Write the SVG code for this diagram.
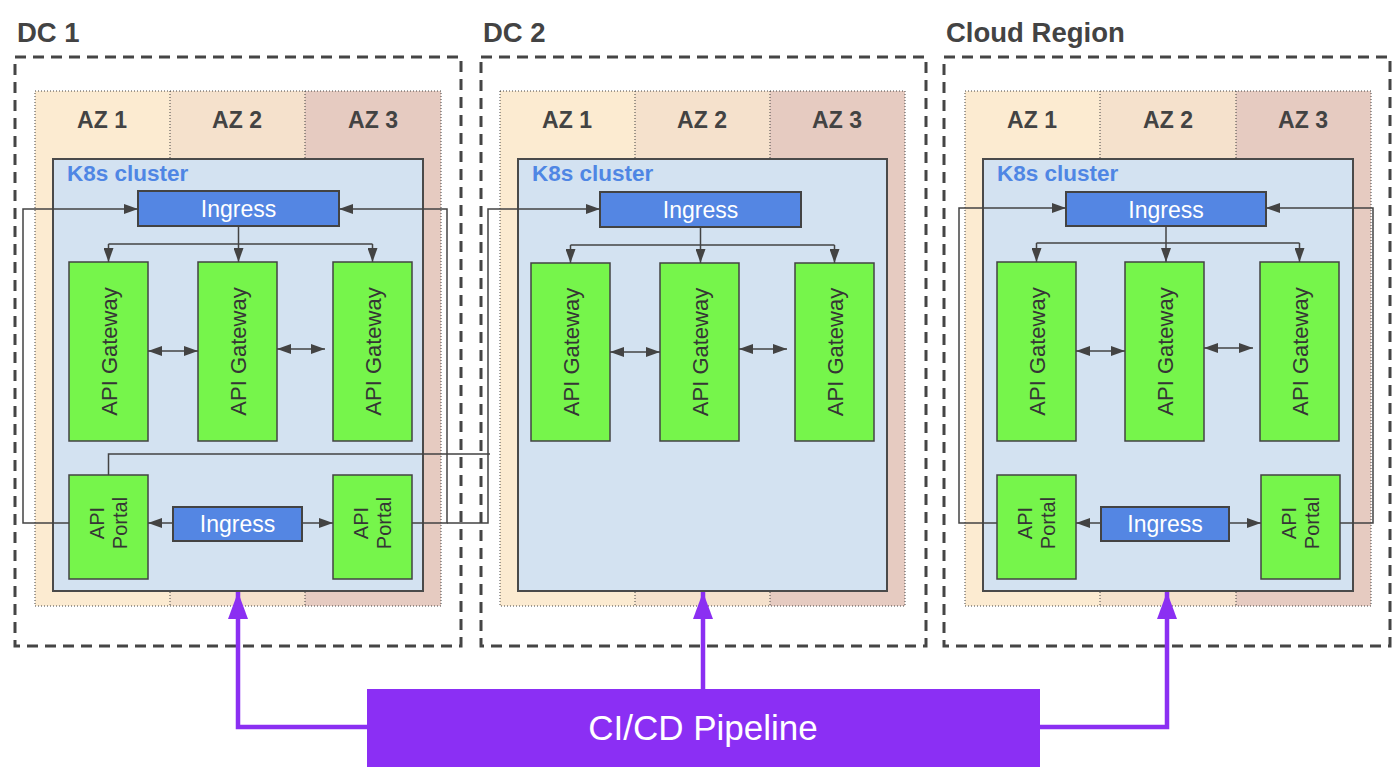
<svg xmlns="http://www.w3.org/2000/svg" width="1400" height="779" viewBox="0 0 1400 779">
<style>
.dc{fill:none;stroke:#454545;stroke-width:3;stroke-dasharray:11 7}
.dclbl{font-family:"Liberation Sans",Arial,sans-serif;font-weight:bold;font-size:27.5px;fill:#434343}
.az1{fill:#fcebd1}
.az2{fill:#f5e1cc}
.az3{fill:#e6cbc1}
.azb{fill:none;stroke:#434343;stroke-width:1;stroke-dasharray:1 2}
.azl{font-family:"Liberation Sans",Arial,sans-serif;font-weight:bold;font-size:23px;fill:#434343;text-anchor:middle}
.k8s{fill:#d3e2f1;stroke:#4a4a4a;stroke-width:2}
.k8l{font-family:"Liberation Sans",Arial,sans-serif;font-weight:bold;font-size:22.5px;fill:#4f86e4}
.ing{fill:#5486e3;stroke:#434343;stroke-width:2}
.ingt{font-family:"Liberation Sans",Arial,sans-serif;font-size:23px;fill:#fff;text-anchor:middle}
.gw{fill:#76f54b;stroke:#434343;stroke-width:1.5}
.gwt{font-family:"Liberation Sans",Arial,sans-serif;font-size:22px;fill:#353535;text-anchor:middle}
.pt{font-family:"Liberation Sans",Arial,sans-serif;font-size:20px;fill:#353535;text-anchor:middle}
.ln{fill:none;stroke:#434343;stroke-width:1.5}
.la{fill:none;stroke:#434343;stroke-width:1.5;marker-end:url(#a)}
.lb{fill:none;stroke:#434343;stroke-width:1.5;marker-start:url(#a);marker-end:url(#a)}
.pp{fill:none;stroke:#8b2ff2;stroke-width:4.5;marker-end:url(#pa)}
.ci{fill:#8b2ff4}
.cit{font-family:"Liberation Sans",Arial,sans-serif;font-size:35px;fill:#fff;text-anchor:middle}
</style>
<defs>
<marker id="a" markerUnits="userSpaceOnUse" markerWidth="14" markerHeight="10" refX="14" refY="5" orient="auto-start-reverse" viewBox="0 0 14 10"><path d="M0,0 L14,5 L0,10 z" fill="#434343"/></marker>
<marker id="pa" markerUnits="userSpaceOnUse" markerWidth="27" markerHeight="20" refX="27" refY="10" orient="auto" viewBox="0 0 27 20"><path d="M0,0 L27,10 L0,20 z" fill="#8b2ff2"/></marker>
</defs>

<!-- DC 1 -->
<g id="dc1">
<text class="dclbl" x="17" y="42">DC 1</text>
<rect class="dc" x="15" y="57" width="446" height="589"/>
<rect class="az1" x="35" y="91" width="135" height="515"/>
<rect class="az2" x="170" y="91" width="135" height="515"/>
<rect class="az3" x="305" y="91" width="136" height="515"/>
<rect class="azb" x="35" y="91" width="406" height="515"/>
<line class="azb" x1="170" y1="91" x2="170" y2="606"/>
<line class="azb" x1="305" y1="91" x2="305" y2="606"/>
<text class="azl" x="102" y="128">AZ 1</text>
<text class="azl" x="237" y="128">AZ 2</text>
<text class="azl" x="373" y="128">AZ 3</text>
</g>
<g id="dc1-k8s">
<rect class="k8s" x="53" y="159" width="370" height="432"/>
<text class="k8l" x="67" y="181">K8s cluster</text>
</g>
<g id="dc1-ingress"><rect class="ing" x="138" y="191" width="201" height="35"/><text class="ingt" x="238.5" y="217">Ingress</text></g>
<g id="dc1-gw1"><rect class="gw" x="69" y="262" width="79" height="179"/><text class="gwt" transform="translate(108.5,351.5) rotate(-90)" y="8">API Gateway</text></g>
<g id="dc1-gw2"><rect class="gw" x="198" y="262" width="79" height="179"/><text class="gwt" transform="translate(237.5,351.5) rotate(-90)" y="8">API Gateway</text></g>
<g id="dc1-gw3"><rect class="gw" x="333" y="262" width="79" height="179"/><text class="gwt" transform="translate(372.5,351.5) rotate(-90)" y="8">API Gateway</text></g>
<g id="dc1-portal1"><rect class="gw" x="69" y="475" width="79" height="104"/><text class="pt" transform="translate(108.5,523) rotate(-90)"><tspan x="0" y="-4.5">API</tspan><tspan x="0" y="18.5">Portal</tspan></text></g>
<g id="dc1-portal2"><rect class="gw" x="333" y="475" width="79" height="104"/><text class="pt" transform="translate(372.5,523) rotate(-90)"><tspan x="0" y="-4.5">API</tspan><tspan x="0" y="18.5">Portal</tspan></text></g>
<g id="dc1-ingress2"><rect class="ing" x="173" y="507" width="129" height="34"/><text class="ingt" x="237.5" y="532">Ingress</text></g>

<!-- DC 2 -->
<g id="dc2">
<text class="dclbl" x="483" y="42">DC 2</text>
<rect class="dc" x="481" y="57" width="445" height="589"/>
<rect class="az1" x="500" y="91" width="135" height="515"/>
<rect class="az2" x="635" y="91" width="135" height="515"/>
<rect class="az3" x="770" y="91" width="135" height="515"/>
<rect class="azb" x="500" y="91" width="405" height="515"/>
<line class="azb" x1="635" y1="91" x2="635" y2="606"/>
<line class="azb" x1="770" y1="91" x2="770" y2="606"/>
<text class="azl" x="567" y="128">AZ 1</text>
<text class="azl" x="702" y="128">AZ 2</text>
<text class="azl" x="837" y="128">AZ 3</text>
</g>
<g id="dc2-k8s">
<rect class="k8s" x="518" y="159" width="369" height="432"/>
<text class="k8l" x="532" y="181">K8s cluster</text>
</g>
<g id="dc2-ingress"><rect class="ing" x="600" y="192" width="201" height="35"/><text class="ingt" x="700.5" y="218">Ingress</text></g>
<g id="dc2-gw1"><rect class="gw" x="531" y="263" width="79" height="178"/><text class="gwt" transform="translate(570.5,352) rotate(-90)" y="8">API Gateway</text></g>
<g id="dc2-gw2"><rect class="gw" x="660" y="263" width="79" height="178"/><text class="gwt" transform="translate(699.5,352) rotate(-90)" y="8">API Gateway</text></g>
<g id="dc2-gw3"><rect class="gw" x="795" y="263" width="79" height="178"/><text class="gwt" transform="translate(834.5,352) rotate(-90)" y="8">API Gateway</text></g>

<!-- Cloud Region -->
<g id="cloud">
<text class="dclbl" x="946" y="42">Cloud Region</text>
<rect class="dc" x="944" y="57" width="446" height="589"/>
<rect class="az1" x="965" y="91" width="135" height="515"/>
<rect class="az2" x="1100" y="91" width="136" height="515"/>
<rect class="az3" x="1236" y="91" width="135" height="515"/>
<rect class="azb" x="965" y="91" width="406" height="515"/>
<line class="azb" x1="1100" y1="91" x2="1100" y2="606"/>
<line class="azb" x1="1236" y1="91" x2="1236" y2="606"/>
<text class="azl" x="1032" y="128">AZ 1</text>
<text class="azl" x="1168" y="128">AZ 2</text>
<text class="azl" x="1303" y="128">AZ 3</text>
</g>
<g id="cloud-k8s">
<rect class="k8s" x="983" y="159" width="370" height="432"/>
<text class="k8l" x="997" y="181">K8s cluster</text>
</g>
<g id="cloud-ingress"><rect class="ing" x="1066" y="192" width="200" height="34"/><text class="ingt" x="1166" y="218">Ingress</text></g>
<g id="cloud-gw1"><rect class="gw" x="997" y="262" width="79" height="179"/><text class="gwt" transform="translate(1036.5,351.5) rotate(-90)" y="8">API Gateway</text></g>
<g id="cloud-gw2"><rect class="gw" x="1125" y="262" width="79" height="179"/><text class="gwt" transform="translate(1164.5,351.5) rotate(-90)" y="8">API Gateway</text></g>
<g id="cloud-gw3"><rect class="gw" x="1260" y="262" width="79" height="179"/><text class="gwt" transform="translate(1299.5,351.5) rotate(-90)" y="8">API Gateway</text></g>
<g id="cloud-portal1"><rect class="gw" x="997" y="475" width="79" height="104"/><text class="pt" transform="translate(1036.5,523) rotate(-90)"><tspan x="0" y="-4.5">API</tspan><tspan x="0" y="18.5">Portal</tspan></text></g>
<g id="cloud-portal2"><rect class="gw" x="1261" y="475" width="79" height="104"/><text class="pt" transform="translate(1300.5,523) rotate(-90)"><tspan x="0" y="-4.5">API</tspan><tspan x="0" y="18.5">Portal</tspan></text></g>
<g id="cloud-ingress2"><rect class="ing" x="1101" y="507" width="128" height="34"/><text class="ingt" x="1165" y="532">Ingress</text></g>

<g id="cicd"><rect class="ci" x="367" y="689" width="673" height="78"/><text class="cit" x="703" y="740">CI/CD Pipeline</text></g>

<g id="connectors">
<!-- DC1 -->
<path class="la" d="M238.5,226 V262"/>
<path class="ln" d="M108.5,244 H372.5"/>
<path class="la" d="M108.5,244 V262"/>
<path class="la" d="M372.5,244 V262"/>
<path class="lb" d="M148,351 H198"/>
<path class="lb" d="M277,349 H325"/>
<path class="la" d="M173,523 H148"/>
<path class="la" d="M302,523 H333"/>
<path class="la" d="M69,523 H23 V209 H138"/>
<path class="la" d="M412,523 H447 V209 H339"/>
<path class="la" d="M447,523 H488 V209 H600"/>
<path class="ln" d="M108.5,475 V454 H490"/>
<!-- DC2 -->
<path class="la" d="M700.5,227 V263"/>
<path class="ln" d="M570.5,245 H834.5"/>
<path class="la" d="M570.5,245 V263"/>
<path class="la" d="M834.5,245 V263"/>
<path class="lb" d="M610,352 H660"/>
<path class="lb" d="M739,349 H787"/>
<!-- Cloud -->
<path class="la" d="M1166,226 V262"/>
<path class="ln" d="M1036.5,243 H1299.5"/>
<path class="la" d="M1036.5,243 V262"/>
<path class="la" d="M1299.5,243 V262"/>
<path class="lb" d="M1076,351 H1125"/>
<path class="lb" d="M1204,348 H1253"/>
<path class="la" d="M1101,523 H1076"/>
<path class="la" d="M1229,523 H1261"/>
<path class="la" d="M997,523 H959 V208 H1066"/>
<path class="la" d="M1340,523 H1373 V208 H1266"/>
<!-- CI/CD -->
<path class="pp" d="M367,727 H238 V592"/>
<path class="pp" d="M703,689 V592"/>
<path class="pp" d="M1040,727 H1167 V592"/>
</g>
</svg>
